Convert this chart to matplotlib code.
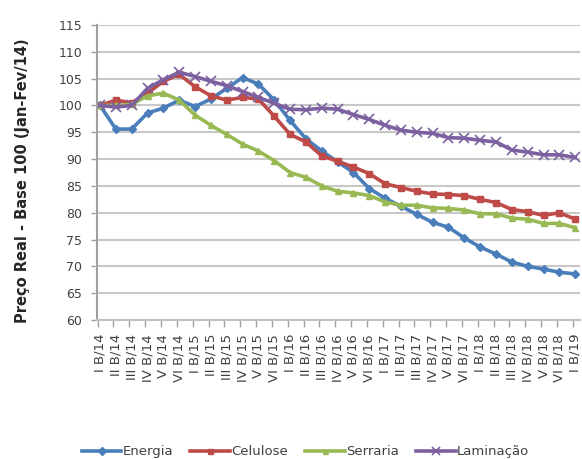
import matplotlib
matplotlib.use("Agg")
import matplotlib.pyplot as plt
import numpy as np

categories = ["I B/14", "II B/14", "III B/14", "IV B/14", "V B/14", "VI B/14",
              "I B/15", "II B/15", "III B/15", "IV B/15", "V B/15", "VI B/15",
              "I B/16", "II B/16", "III B/16", "IV B/16", "V B/16", "VI B/16",
              "I B/17", "II B/17", "III B/17", "IV B/17", "V B/17", "VI B/17",
              "I B/18", "II B/18", "III B/18", "IV B/18", "V B/18", "VI B/18",
              "I B/19"]

energia = [100, 95.6, 95.6, 98.6, 99.5, 101.0, 99.8, 101.2, 103.2, 105.2, 104.0,
           101.0, 97.2, 93.8, 91.5, 89.5, 87.5, 84.5, 82.7, 81.2, 79.7, 78.2,
           77.3, 75.3, 73.6, 72.3, 70.8, 70.0, 69.5, 68.9, 68.6]
celulose = [100, 101.0, 100.5, 102.3, 104.5, 105.8, 103.5, 101.8, 101.0, 101.5,
            101.2, 98.0, 94.6, 93.2, 90.6, 89.6, 88.5, 87.3, 85.4, 84.7, 84.0,
            83.5, 83.4, 83.2, 82.5, 81.9, 80.6, 80.2, 79.5, 80.0, 78.8]
serraria = [100, 100.0, 100.2, 101.8, 102.3, 101.0, 98.2, 96.3, 94.6, 92.8, 91.5,
            89.7, 87.5, 86.6, 85.0, 84.0, 83.7, 83.2, 82.0, 81.4, 81.4, 80.9,
            80.8, 80.5, 79.8, 79.8, 79.0, 78.8, 78.0, 78.0, 77.2]
laminacao = [100, 99.7, 100.0, 103.2, 104.8, 106.2, 105.4, 104.5, 103.7, 102.6,
             101.5, 100.4, 99.3, 99.2, 99.5, 99.3, 98.3, 97.4, 96.3, 95.4, 95.0,
             94.8, 94.0, 93.9, 93.5, 93.2, 91.7, 91.3, 90.8, 90.8, 90.3]

series_names = ["Energia", "Celulose", "Serraria", "Laminação"]
colors = ["#4A7EBB", "#BE4B48", "#98B954", "#7D60A0"]
markers = ["D", "s", "^", "x"]

fig = plt.figure(figsize=(5.82, 4.59), dpi=100)
ax = fig.add_axes([0.1675, 0.3028, 0.829, 0.6427])

x = np.arange(len(categories))
for vals, name, c, m in zip([energia, celulose, serraria, laminacao], series_names, colors, markers):
    if m == "x":
        ax.plot(x, vals, color=c, lw=2.6, marker=m, ms=7, mew=1.2, label=name)
    else:
        ax.plot(x, vals, color=c, lw=2.6, marker=m, ms=4.5, mec=c, mfc=c, label=name)

ax.set_ylim(60, 115)
ax.set_yticks(np.arange(60, 116, 5))
ax.set_xlim(-0.16, 30.3)
ax.set_xticks(x)
ax.set_xticklabels(categories, rotation=90, fontsize=9.5, color="#404040")
ax.tick_params(axis="x", which="major", length=0, pad=10)
ax.set_xticks(np.arange(0, 31) - 0.15, minor=True)
ax.tick_params(axis="x", which="minor", length=5, color="#A0A0A0", width=1)
ax.tick_params(axis="y", labelsize=9, colors="#404040", length=4, width=1, pad=7)
ax.tick_params(axis="y", color="#A0A0A0")

ax.grid(axis="y", color="#C8C8C8", lw=1.5)
ax.set_axisbelow(True)
for s in ["top", "right"]:
    ax.spines[s].set_visible(False)
ax.spines["left"].set_color("#A0A0A0")
ax.spines["left"].set_linewidth(1.5)
ax.spines["bottom"].set_color("#C0C0C0")
ax.spines["bottom"].set_linewidth(1.5)

fig.text(0.038, 0.606, "Preço Real - Base 100 (Jan-Fev/14)", rotation=90,
         ha="center", va="center", fontsize=10.5, fontweight="bold", color="#262626")

leg = fig.legend(loc="center", bbox_to_anchor=(0.525, 0.016), ncol=4, frameon=False,
                 fontsize=9.5, handlelength=3.0, handletextpad=0.1, columnspacing=1.3,
                 labelcolor="#404040", markerscale=0.8)

fig.savefig("out.png", dpi=100)
